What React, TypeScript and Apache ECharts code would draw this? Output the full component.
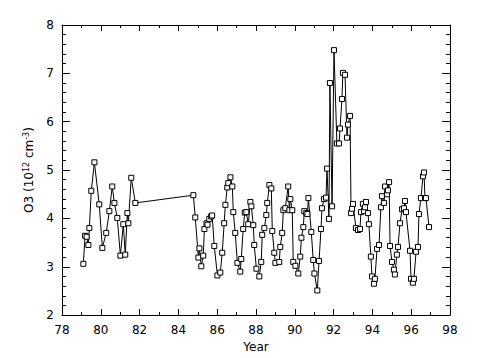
import React, { useEffect, useRef } from "react";
import * as echarts from "echarts";

const years: number[] = [
  79.10, 79.19, 79.27, 79.36, 79.41, 79.51, 79.67, 79.92, 80.08, 80.28, 80.44, 80.59, 80.70, 80.85, 81.01, 81.16, 81.26, 81.37, 81.42, 81.57, 81.78,
  84.77, 84.87, 85.03, 85.08, 85.18, 85.28, 85.34, 85.45, 85.50, 85.59, 85.69, 85.74, 85.85, 86.01, 86.16, 86.26, 86.36, 86.42, 86.52, 86.57, 86.68, 86.78, 86.83, 86.93,
  87.04, 87.19, 87.24, 87.34, 87.42, 87.50, 87.60, 87.71, 87.76, 87.86, 87.91, 88.02, 88.17, 88.27, 88.32, 88.43, 88.53, 88.58, 88.69, 88.79, 88.84, 88.94,
  89.00, 89.20, 89.25, 89.35, 89.41, 89.51, 89.66, 89.72, 89.77, 89.87, 89.92, 90.03, 90.18, 90.28, 90.34, 90.44, 90.49, 90.59, 90.65, 90.70, 90.85, 90.95,
  91.01, 91.16, 91.25, 91.35, 91.40, 91.51, 91.61, 91.66, 91.76, 91.81, 91.92, 92.02, 92.17, 92.28, 92.33, 92.43, 92.48, 92.59, 92.69, 92.74, 92.85, 92.90,
  92.95, 93.00, 93.15, 93.26, 93.36, 93.41, 93.51, 93.57, 93.62, 93.67, 93.77, 93.82, 93.92, 93.98, 94.08, 94.13, 94.24, 94.34, 94.44, 94.49, 94.60, 94.65,
  94.75, 94.80, 94.86, 94.91, 95.01, 95.11, 95.16, 95.26, 95.32, 95.42, 95.53, 95.63, 95.68, 95.73, 95.94, 95.99, 96.09, 96.14, 96.25, 96.35, 96.40, 96.50,
  96.61, 96.66, 96.71, 96.76, 96.92,
];

const o3: number[] = [
  3.06, 3.64, 3.62, 3.45, 3.80, 4.57, 5.16, 4.29, 3.39, 3.70, 4.15, 4.66, 4.32, 4.01, 3.23, 3.88, 3.25, 4.11, 3.90, 4.84, 4.32,
  4.48, 4.02, 3.19, 3.38, 3.01, 3.23, 3.78, 3.90, 3.87, 3.99, 4.04, 4.06, 3.43, 2.82, 2.88, 3.29, 3.90, 4.28, 4.64, 4.73, 4.85, 4.66, 4.13, 3.70,
  3.08, 2.90, 3.16, 3.78, 4.12, 4.13, 3.88, 4.34, 4.25, 3.86, 3.45, 2.96, 2.80, 3.10, 3.66, 3.80, 4.07, 4.32, 4.69, 4.62, 3.74, 3.29,
  3.08, 3.10, 3.41, 3.70, 4.17, 4.21, 4.66, 4.17, 4.40, 4.17, 3.10, 3.02, 2.86, 3.21, 3.60, 3.82, 4.15, 4.11, 4.09, 4.42, 3.72, 3.14,
  2.86, 2.51, 3.12, 3.78, 4.21, 4.40, 4.43, 5.03, 3.99, 6.80, 4.25, 7.48, 5.55, 5.55, 5.86, 6.47, 7.01, 6.97, 5.67, 5.94, 6.12, 4.11,
  4.20, 4.30, 3.80, 3.76, 3.78, 4.13, 4.30, 4.15, 4.23, 4.34, 4.11, 3.88, 3.21, 2.80, 2.65, 2.75, 3.37, 3.45, 4.23, 4.46, 4.32, 4.66,
  4.50, 4.58, 4.75, 3.43, 3.10, 2.94, 2.84, 3.25, 3.41, 3.90, 4.19, 4.21, 4.36, 4.13, 3.33, 2.75, 2.67, 2.75, 3.31, 3.41, 4.09, 4.42,
  4.87, 4.95, 4.42, 4.42, 3.82,
];

const xTitle = "Year";
const yTitle = "O3 (10{sup|12} cm{sup|-3})";

export default function App() {
  const ref = useRef<HTMLDivElement>(null);
  useEffect(() => {
    if (!ref.current) return;
    const chart = echarts.init(ref.current, null, { renderer: "svg" });
    const font = "DejaVu Sans";
    const axisLine = { show: true, onZero: false, lineStyle: { color: "#000", width: 1 } };
    const data = years.map((y, i) => [y, o3[i]]);
    chart.setOption({
      animation: false,
      backgroundColor: "#fff",
      grid: { left: 62, right: 27, top: 25, bottom: 41, containLabel: false },
      xAxis: [
        {
          type: "value", min: 78, max: 98, interval: 2, position: "bottom",
          name: xTitle, nameLocation: "middle", nameGap: 21,
          nameTextStyle: { fontFamily: font, fontSize: 12, color: "#000" },
          axisLine,
          axisTick: { show: true, inside: true, length: 6, lineStyle: { color: "#000" } },
          minorTick: { show: true, splitNumber: 2, length: 3, lineStyle: { color: "#000" } },
          axisLabel: { fontFamily: font, fontSize: 12, color: "#000", margin: 9 },
          splitLine: { show: false }, minorSplitLine: { show: false },
        },
        {
          type: "value", min: 78, max: 98, interval: 2, position: "top",
          axisLine,
          axisTick: { show: true, inside: true, length: 6, lineStyle: { color: "#000" } },
          minorTick: { show: true, splitNumber: 2, length: 3, lineStyle: { color: "#000" } },
          axisLabel: { show: false },
          splitLine: { show: false },
        },
      ],
      yAxis: [
        {
          type: "value", min: 2, max: 8, interval: 1, position: "left",
          name: yTitle, nameLocation: "middle", nameGap: 26, nameRotate: 90,
          nameTextStyle: {
            fontFamily: font, fontSize: 12, color: "#000",
            rich: { sup: { fontFamily: font, fontSize: 8, color: "#000", verticalAlign: "top", padding: [0, 0, 6, 0] } },
          },
          axisLine,
          axisTick: { show: true, inside: true, length: 8, lineStyle: { color: "#000" } },
          minorTick: { show: true, splitNumber: 5, length: 4, lineStyle: { color: "#000" } },
          axisLabel: { fontFamily: font, fontSize: 12, color: "#000", margin: 8 },
          splitLine: { show: false }, minorSplitLine: { show: false },
        },
        {
          type: "value", min: 2, max: 8, interval: 1, position: "right",
          axisLine,
          axisTick: { show: true, inside: true, length: 8, lineStyle: { color: "#000" } },
          minorTick: { show: true, splitNumber: 5, length: 4, lineStyle: { color: "#000" } },
          axisLabel: { show: false },
          splitLine: { show: false },
        },
      ],
      series: [
        {
          type: "line", xAxisIndex: 0, yAxisIndex: 0, data,
          symbol: "rect", symbolSize: 5, showSymbol: true,
          lineStyle: { color: "#000", width: 1 },
          itemStyle: { color: "#fff", borderColor: "#000", borderWidth: 1 },
          emphasis: { disabled: true },
        },
      ],
    });
    return () => chart.dispose();
  }, []);
  return <div ref={ref} style={{ width: 477, height: 358, position: "absolute", left: 0, top: 0 }} />;
}
